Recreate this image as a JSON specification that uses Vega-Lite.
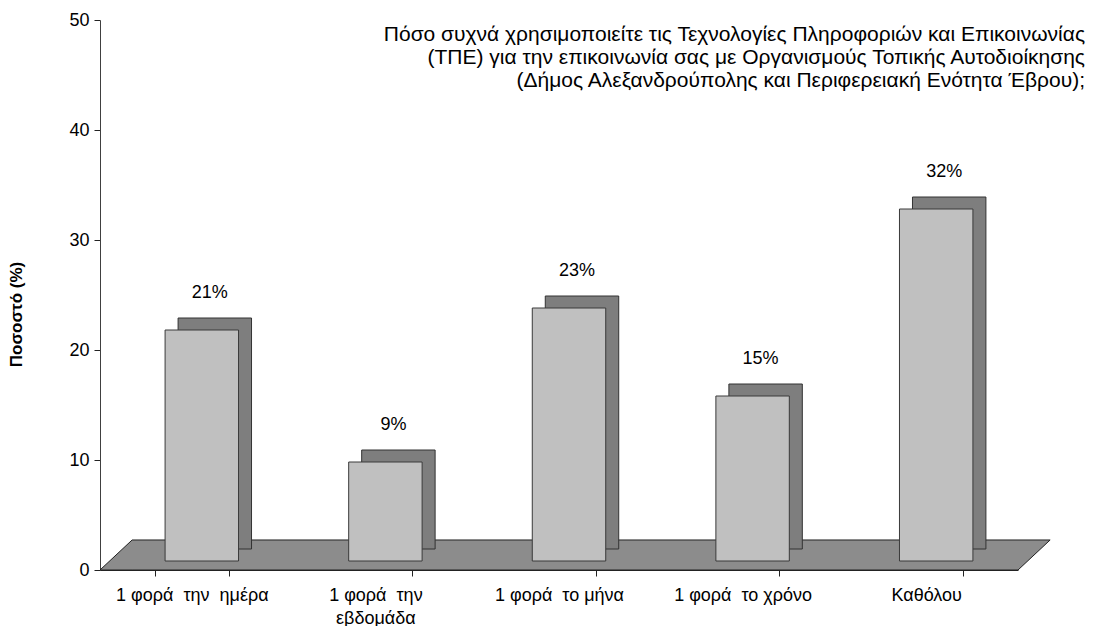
{
  "$schema": "https://vega.github.io/schema/vega-lite/v6.json",
  "width": 918,
  "height": 550,
  "autosize": "none",
  "padding": {"left": 100, "top": 20, "right": 79, "bottom": 56},
  "background": "white",
  "config": {
    "font": "Liberation Sans",
    "view": {"stroke": null}
  },
  "title": {
    "text": ["Πόσο συχνά χρησιμοποιείτε τις Τεχνολογίες Πληροφοριών και Επικοινωνίας", "(ΤΠΕ) για την επικοινωνία σας με Οργανισμούς  Τοπικής Αυτοδιοίκησης", "(Δήμος Αλεξανδρούπολης και Περιφερειακή Ενότητα Έβρου);"],
    "anchor": "end",
    "frame": "group",
    "orient": "top",
    "baseline": "bottom",
    "offset": -101,
    "dx": 67,
    "fontSize": 21,
    "fontWeight": "normal",
    "font": "Liberation Sans",
    "color": "#000000",
    "lineHeight": 23
  },
  "datasets": {
    "bars": [
      {"cat": "1 φορά την ημέρα", "value": 21, "label": "21%"},
      {"cat": "1 φορά την εβδομάδα", "value": 9, "label": "9%"},
      {"cat": "1 φορά το μήνα", "value": 23, "label": "23%"},
      {"cat": "1 φορά το χρόνο", "value": 15, "label": "15%"},
      {"cat": "Καθόλου", "value": 32, "label": "32%"}
    ],
    "floor": [
      {"fx": 0, "top": 0, "base": 0},
      {"fx": 3.5, "top": 2.73, "base": 0},
      {"fx": 100, "top": 2.73, "base": 0},
      {"fx": 103.5, "top": 2.73, "base": 2.73}
    ]
  },
  "resolve": {"scale": {"x": "independent"}, "axis": {"x": "independent"}},
  "layer": [
    {
      "data": {"name": "floor"},
      "mark": {"type": "area", "color": "#8c8c8c", "stroke": "#222222", "strokeWidth": 1, "clip": false, "interpolate": "linear"},
      "encoding": {
        "x": {"field": "fx", "type": "quantitative", "scale": {"domain": [0, 100], "nice": false, "zero": false}, "axis": null},
        "y": {"field": "top", "type": "quantitative", "scale": {"domain": [0, 50], "nice": false}, "axis": {
          "title": "Ποσοστό (%)", "values": [0, 10, 20, 30, 40, 50], "grid": false,
          "domainColor": "#404040", "tickColor": "#222222", "tickSize": 6, "labelFontSize": 18, "labelColor": "#000000",
          "labelPadding": 5, "titleFontSize": 17, "titleFontWeight": "bold", "titleColor": "#000000", "titleX": -75, "titleY": 294
        }},
        "y2": {"field": "base"}
      }
    },
    {
      "data": {"name": "bars"},
      "layer": [
        {
          "mark": {"type": "bar", "color": "#7e7e7e", "stroke": "#333333", "strokeWidth": 1, "xOffset": 23, "yOffset": -21},
          "encoding": {
            "x": {"field": "cat", "type": "nominal", "sort": null, "scale": {"paddingInner": 0.6, "paddingOuter": 0.3},
              "axis": {"title": null, "labelAngle": 0, "labelFontSize": 18, "labelColor": "#000000", "tickBand": "extent", "tickSize": 6, "tickColor": "#222222", "domainColor": "#222222", "labelPadding": 10, "labelLineHeight": 23,
                "labelExpr": "datum.value == '1 φορά την εβδομάδα' ? ['1 φορά\u00a0 την', 'εβδομάδα'] : datum.value == '1 φορά την ημέρα' ? '1 φορά\u00a0 την\u00a0 ημέρα' : datum.value == '1 φορά το μήνα' ? '1 φορά\u00a0 το μήνα' : datum.value == '1 φορά το χρόνο' ? '1 φορά\u00a0 το χρόνο' : datum.value"}},
            "y": {"field": "value", "type": "quantitative"}
          }
        },
        {
          "mark": {"type": "bar", "color": "#c0c0c0", "stroke": "#3a3a3a", "strokeWidth": 1, "xOffset": 10, "yOffset": -9},
          "encoding": {
            "x": {"field": "cat", "type": "nominal", "sort": null},
            "y": {"field": "value", "type": "quantitative"}
          }
        },
        {
          "mark": {"type": "text", "fontSize": 18, "color": "#000000", "xOffset": 18, "yOffset": -46, "baseline": "middle"},
          "encoding": {
            "x": {"field": "cat", "type": "nominal", "sort": null},
            "y": {"field": "value", "type": "quantitative"},
            "text": {"field": "label", "type": "nominal"}
          }
        }
      ]
    }
  ]
}
